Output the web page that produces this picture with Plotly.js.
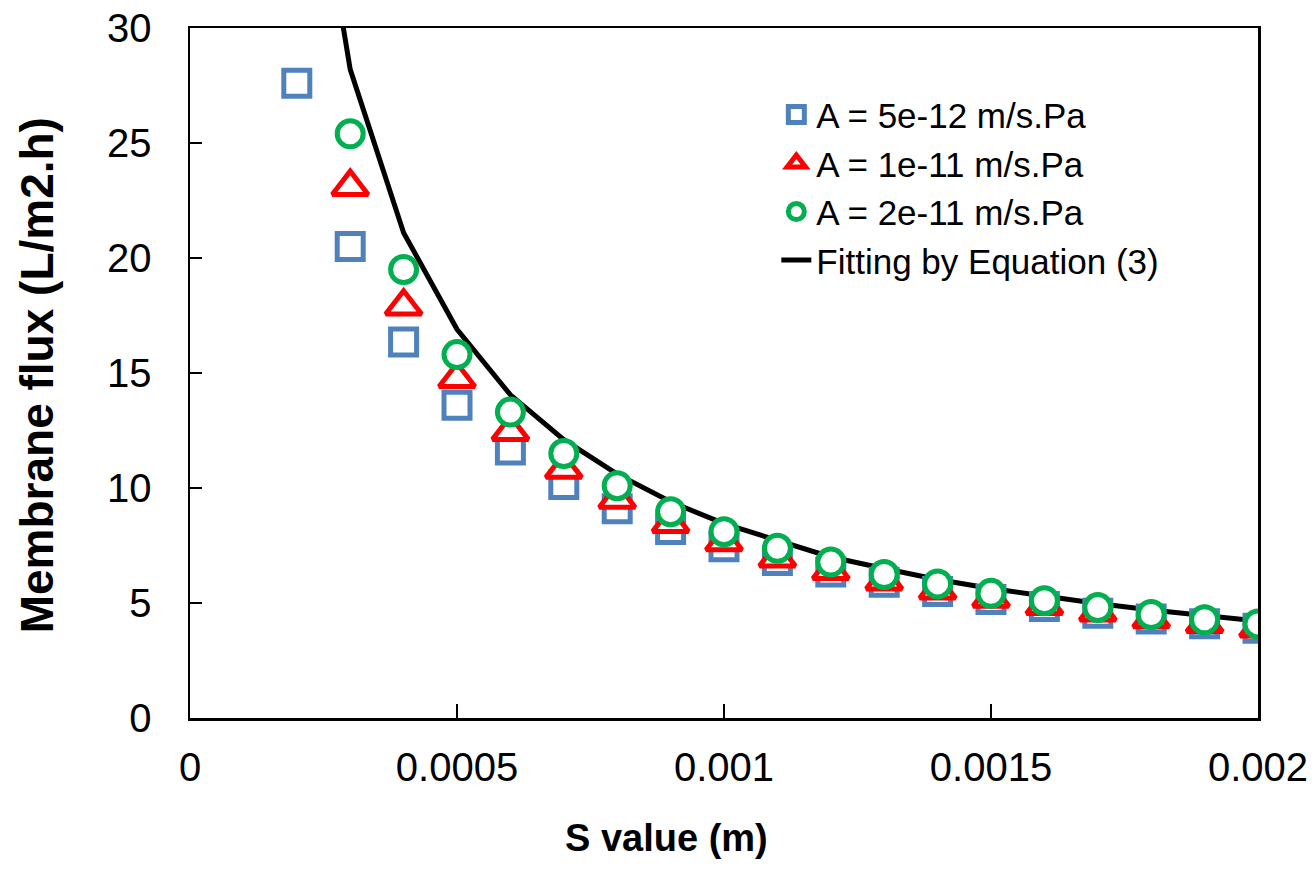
<!DOCTYPE html>
<html>
<head>
<meta charset="utf-8">
<script src="https://cdn.plot.ly/plotly-3.0.1.min.js"></script>
<style>html,body{margin:0;padding:0;background:#fff;}#chart{width:1316px;height:875px;}</style>
</head>
<body>
<div id="chart"></div>
<script>
// S values (m)
const sValues = [0.0002, 0.0003, 0.0004, 0.0005, 0.0006, 0.0007, 0.0008, 0.0009, 0.0010, 0.0011,
                 0.0012, 0.0013, 0.0014, 0.0015, 0.0016, 0.0017, 0.0018, 0.0019, 0.0020];
// Membrane flux (L/m2.h)
const fluxA5e12 = [27.6, 20.5, 16.35, 13.6, 11.65, 10.15, 9.1, 8.2, 7.45, 6.85,
                   6.35, 5.9, 5.5, 5.15, 4.85, 4.55, 4.3, 4.1, 3.9];
const fluxA1e11 = [null, 23.1, 17.9, 14.75, 12.45, 10.8, 9.5, 8.45, 7.65, 6.95,
                   6.4, 5.95, 5.55, 5.2, 4.88, 4.6, 4.3, 4.1, 3.9];
const fluxA2e11 = [null, 25.4, 19.5, 15.8, 13.3, 11.5, 10.1, 8.97, 8.1, 7.38,
                   6.78, 6.24, 5.83, 5.42, 5.1, 4.8, 4.5, 4.27, 4.09];
const fluxFit   = [42.3, 28.2, 21.1, 16.9, 14.05, 12.1, 10.6, 9.4, 8.45, 7.7,
                   7.0, 6.5, 6.02, 5.63, 5.28, 4.98, 4.7, 4.45, 4.22];

const seriesNames = ['A = 5e-12 m/s.Pa', 'A = 1e-11 m/s.Pa', 'A = 2e-11 m/s.Pa', 'Fitting by Equation (3)'];
const xTickVals = [0, 0.0005, 0.001, 0.0015, 0.002];
const xTickText = ['0', '0.0005', '0.001', '0.0015', '0.002'];
const yTickVals = [0, 5, 10, 15, 20, 25, 30];
const xTitle = 'S value (m)';
const yTitle = 'Membrane flux (L/m2.h)';

const FONT = '"Liberation Sans", Arial, sans-serif';

const traces = [
  {
    x: sValues, y: fluxFit, name: seriesNames[3], type: 'scatter', mode: 'lines',
    line: {color: '#000000', width: 5}, legendrank: 4
  },
  {
    x: sValues, y: fluxA5e12, name: seriesNames[0], type: 'scatter', mode: 'markers',
    marker: {symbol: 'square', size: 26, color: '#ffffff', line: {color: '#4F81BD', width: 5}},
    legendrank: 1
  },
  {
    x: sValues, y: fluxA1e11, name: seriesNames[1], type: 'scatter', mode: 'markers',
    marker: {symbol: 'triangle-up', size: 31, color: '#ffffff', line: {color: '#FF0000', width: 5}},
    legendrank: 2
  },
  {
    x: sValues, y: fluxA2e11, name: seriesNames[2], type: 'scatter', mode: 'markers',
    marker: {symbol: 'circle', size: 26, color: '#ffffff', line: {color: '#00B050', width: 5}},
    legendrank: 3
  }
];

const layout = {
  width: 1316, height: 875,
  margin: {l: 190, r: 58, t: 28, b: 157},
  paper_bgcolor: '#ffffff', plot_bgcolor: '#ffffff',
  font: {family: FONT, color: '#000000', size: 40},
  showlegend: true,
  legend: {
    x: 0.549, y: 0.917, xanchor: 'left', yanchor: 'top',
    bgcolor: 'rgba(0,0,0,0)', borderwidth: 0,
    font: {family: FONT, size: 35, color: '#000000'},
    tracegroupgap: 0
  },
  xaxis: {
    range: [0, 0.002], tickmode: 'array', tickvals: xTickVals, ticktext: xTickText,
    ticks: 'inside', ticklen: 14, tickwidth: 1.5, tickcolor: '#000000',
    showline: true, linecolor: '#000000', linewidth: 2.5, mirror: true,
    showgrid: false, zeroline: false,
    tickfont: {family: FONT, size: 40, color: '#000000'},
    ticklabelstandoff: 12
  },
  yaxis: {
    range: [0, 30], tickmode: 'array', tickvals: yTickVals,
    ticks: 'inside', ticklen: 12, tickwidth: 1.5, tickcolor: '#000000',
    showline: true, linecolor: '#000000', linewidth: 2.5, mirror: true,
    showgrid: false, zeroline: false,
    tickfont: {family: FONT, size: 40, color: '#000000'},
    ticklabelstandoff: 28
  },
  annotations: [
    {
      text: '<b>' + xTitle + '</b>', xref: 'paper', yref: 'paper',
      x: 0.446, y: -0.174, xanchor: 'center', yanchor: 'middle', showarrow: false,
      font: {family: FONT, size: 38, color: '#000000'}
    },
    {
      text: '<b>' + yTitle + '</b>', xref: 'paper', yref: 'paper', textangle: -90,
      x: -0.143, y: 0.497, xanchor: 'center', yanchor: 'middle', showarrow: false,
      font: {family: FONT, size: 46, color: '#000000'}
    }
  ]
};

Plotly.newPlot('chart', traces, layout, {displayModeBar: false, staticPlot: true});
</script>
</body>
</html>
